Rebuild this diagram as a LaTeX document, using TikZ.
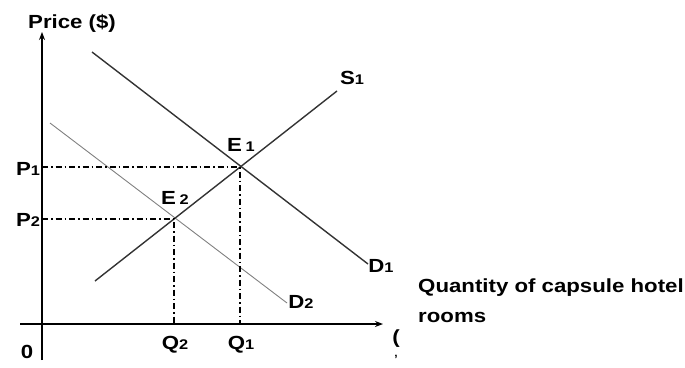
\documentclass[tikz,border=0pt]{standalone}
\usepackage{fontspec}
\setmainfont{Liberation Sans}
\usetikzlibrary{arrows.meta}
\newcommand{\widetxt}[1]{\scalebox{1.17}[1]{#1}}
\newcommand{\sdig}[1]{{\fontsize{14}{14}\selectfont #1}}
\begin{document}
\begin{tikzpicture}[x=1pt,y=-1pt,
  lbl/.style={font=\fontsize{19}{19}\selectfont\bfseries, inner sep=0pt},
  axisline/.style={line width=2pt, -{Stealth[length=8pt,width=6pt]}},
  curve/.style={line width=1.4pt, black!80},
  curvelight/.style={line width=0.9pt, black!50},
  guide/.style={line width=1.5pt, dash pattern=on 6pt off 3pt on 1.5pt off 3pt}]
\useasboundingbox (0,0) rectangle (685,367);
% axes
\coordinate (ybot) at (42,360);
\coordinate (ytop) at (42,32);
\coordinate (xleft) at (20,324);
\coordinate (xright) at (383,324);
\draw[axisline] (ybot) -- (ytop);
\draw[axisline] (xleft) -- (xright);
% equilibria
\coordinate (E1) at (240,167);
\coordinate (E2) at (174,219);
\coordinate (P1a) at (42,167);
\coordinate (P2a) at (42,219);
\coordinate (Q1a) at (240,324);
\coordinate (Q2a) at (174,324);
% curves
\coordinate (s0) at (95,281);
\coordinate (s1) at (337,91);
\coordinate (d10) at (92,52);
\coordinate (d11) at (368,264);
\coordinate (d20) at (50,123);
\coordinate (d21) at (287,303);
\draw[curvelight] (d20) -- (d21);
\draw[curve] (d10) -- (d11);
\draw[curve] (s0) -- (s1);
% guides
\draw[guide] (P1a) -- (E1) -- (Q1a);
\draw[guide] (P2a) -- (E2) -- (Q2a);
% labels
\node[lbl, anchor=base west] (price) at (28,28) {\widetxt{Price (\$)}};
\node[lbl] (S1) at (352,78) {\widetxt{S\sdig{1}}};
\node[lbl] (D1) at (381,266) {\widetxt{D\sdig{1}}};
\node[lbl] (D2) at (301,302) {\widetxt{D\sdig{2}}};
\node[lbl] (E1l) at (241,145) {\widetxt{E\,\sdig{1}}};
\node[lbl] (E2l) at (175,198) {\widetxt{E\,\sdig{2}}};
\node[lbl] (P1) at (28,169) {\widetxt{P\sdig{1}}};
\node[lbl] (P2) at (28,220) {\widetxt{P\sdig{2}}};
\node[lbl] (Q2) at (175,345) {\widetxt{Q\sdig{2}}};
\node[lbl] (Q1) at (241,345) {\widetxt{Q\sdig{1}}};
\node[lbl] (zero) at (27,352) {\widetxt{0}};
\node[lbl, anchor=base west] (qty1) at (418,292) {\widetxt{Quantity of capsule hotel}};
\node[lbl, anchor=base west] (qty2) at (418,322) {\widetxt{rooms}};
\node[lbl] (cut1) at (396,339) {\widetxt{(}};
\node[lbl, font=\fontsize{12}{12}\selectfont\bfseries] (cut2) at (396,359) {'};
\end{tikzpicture}
\end{document}
